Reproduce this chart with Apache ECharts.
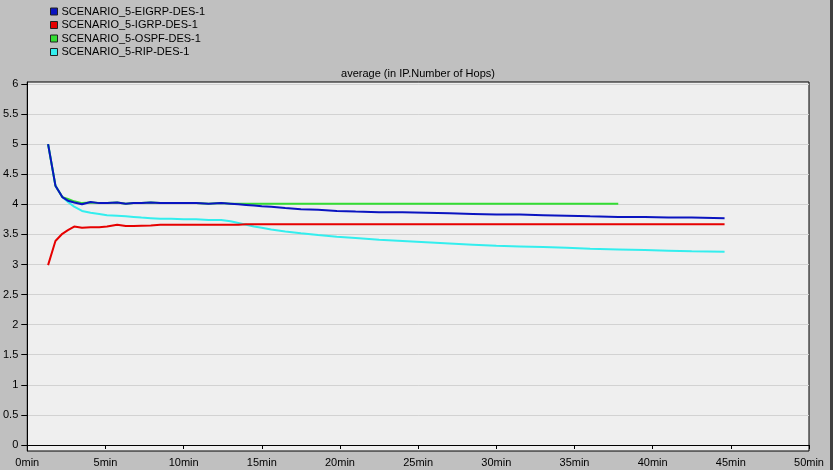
<!DOCTYPE html>
<html>
<head>
<meta charset="utf-8">
<script src="https://cdn.jsdelivr.net/npm/echarts@6/dist/echarts.min.js"></script>
<style>
html,body{margin:0;padding:0;background:#c0c0c0;}
#chart{width:833px;height:470px;}
</style>
</head>
<body>
<div id="chart"></div>
<script>
const seriesNames = ['SCENARIO_5-EIGRP-DES-1','SCENARIO_5-IGRP-DES-1','SCENARIO_5-OSPF-DES-1','SCENARIO_5-RIP-DES-1'];
const timeMin = [1.33,1.8,2.24,2.6,3.0,3.5,4.05,4.6,5.1,5.75,6.3,6.8,7.3,7.9,8.5,9.2,10,10.8,11.6,12.4,13,13.5,14,14.5,15,15.6,16.5,17.5,18.6,19.8,21,22.5,24,25.5,27,28.5,30,31.5,33,34.5,36,37.8,39.5,41,42.5,44.6];
const eigrp = [5.00,4.31,4.12,4.06,4.03,4.00,4.04,4.02,4.02,4.03,4.01,4.02,4.02,4.03,4.02,4.02,4.02,4.02,4.01,4.02,4.01,4.00,3.99,3.98,3.97,3.96,3.94,3.92,3.91,3.89,3.88,3.87,3.87,3.86,3.85,3.84,3.83,3.83,3.82,3.81,3.80,3.79,3.79,3.78,3.78,3.77];
const igrp = [2.99,3.39,3.51,3.57,3.63,3.61,3.62,3.62,3.63,3.66,3.64,3.64,3.645,3.65,3.66,3.66,3.66,3.66,3.66,3.66,3.66,3.66,3.67,3.67,3.67,3.67,3.67,3.67,3.67,3.67,3.67,3.67,3.67,3.67,3.67,3.67,3.67,3.67,3.67,3.67,3.67,3.67,3.67,3.67,3.67,3.67];
const ospf = [5.00,4.31,4.12,4.09,4.05,4.02,4.03,4.02,4.02,4.03,4.01,4.02,4.02,4.03,4.02,4.02,4.02,4.02,4.01,4.02,4.01,4.01,4.01,4.01,4.01,4.01,4.01,4.01,4.01,4.01,4.01,4.01,4.01,4.01,4.01,4.01,4.01,4.01,4.01,4.01,4.01,4.01,null,null,null,null];
const rip = [5.00,4.31,4.12,4.04,3.96,3.89,3.86,3.84,3.82,3.81,3.80,3.79,3.78,3.77,3.76,3.76,3.75,3.75,3.74,3.74,3.72,3.69,3.66,3.63,3.61,3.58,3.55,3.52,3.49,3.46,3.44,3.41,3.39,3.37,3.35,3.33,3.31,3.30,3.29,3.28,3.26,3.25,3.24,3.23,3.22,3.21];
const yTicks = [0,0.5,1,1.5,2,2.5,3,3.5,4,4.5,5,5.5,6];
const xTickSuffix = 'min';
const chartTitle = 'average (in IP.Number of Hops)';

const colors = ['#0a14c0','#e60000','#33dd33','#33eeee'];
const values = [eigrp, igrp, ospf, rip];
const zs = [6,5,4,3];
const font = '"Liberation Sans", Arial, sans-serif';

const chart = echarts.init(document.getElementById('chart'), null, {renderer:'canvas'});
chart.setOption({
  animation:false,
  backgroundColor:'#c0c0c0',
  title:{text:chartTitle,left:418,top:68,padding:0,textAlign:'center',
    textStyle:{fontFamily:font,fontSize:11,fontWeight:'normal',color:'#000'}},
  legend:{orient:'vertical',left:50,top:5,padding:0,itemWidth:7,itemHeight:7,itemGap:0.5,
    icon:'rect',data:seriesNames,
    itemStyle:{borderColor:'#222',borderWidth:1},
    textStyle:{fontFamily:font,fontSize:11,color:'#000',lineHeight:13,padding:[0,0,0,-1]}},
  grid:{left:27,right:24,top:82,bottom:19,show:true,backgroundColor:'#efefef',borderColor:'#000',borderWidth:1},
  xAxis:{type:'value',min:0,max:50,interval:5,
    axisLine:{show:true,lineStyle:{color:'#000',width:1}},
    axisTick:{show:true,length:4,lineStyle:{color:'#000'}},
    axisLabel:{show:true,margin:6,fontFamily:font,fontSize:11,color:'#000',showMinLabel:true,showMaxLabel:true,hideOverlap:false,
      formatter:v=>v+xTickSuffix},
    splitLine:{show:false}},
  yAxis:{type:'value',min:-0.0997,max:6.033,
    axisLine:{show:true,lineStyle:{color:'#000',width:1}},
    axisTick:{show:true,length:6,customValues:yTicks,lineStyle:{color:'#000'}},
    axisLabel:{show:true,margin:9,customValues:yTicks,fontFamily:font,fontSize:11,color:'#000',
      formatter:v=>String(v)},
    splitLine:{show:true,lineStyle:{color:'#d2d2d2',width:1}}},
  graphic:[
    {type:'rect',right:0,top:0,shape:{width:3,height:470},style:{fill:'#404040'},silent:true}
  ],
  series: seriesNames.map((n,i)=>({
    name:n,type:'line',showSymbol:false,symbol:'none',z:zs[i],
    color:colors[i],
    lineStyle:{width:2,color:colors[i]},
    data: timeMin.map((t,k)=>[t, values[i][k]])
  }))
});
</script>
</body>
</html>
